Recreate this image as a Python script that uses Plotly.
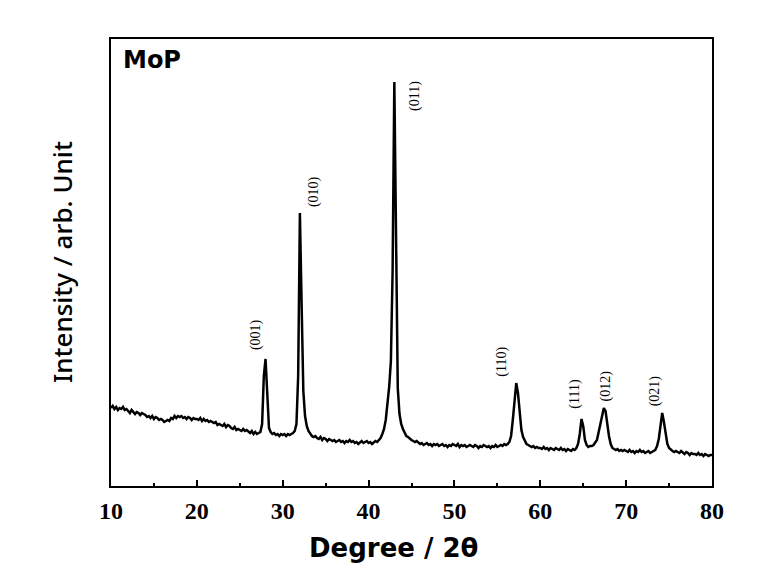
import plotly.graph_objects as go

# ---- data (2-theta in degrees, intensity arb.) ----
two_theta = [
    10.0, 10.2, 10.4, 10.6, 10.8, 11.0, 11.2, 11.4, 11.6, 11.8,
    12.0, 12.2, 12.4, 12.6, 12.8, 13.0, 13.2, 13.4, 13.6, 13.8,
    14.0, 14.2, 14.4, 14.6, 14.8, 15.0, 15.2, 15.4, 15.6, 15.8,
    16.0, 16.2, 16.4, 16.6, 16.8, 17.0, 17.2, 17.4, 17.6, 17.8,
    18.0, 18.2, 18.4, 18.6, 18.8, 19.0, 19.2, 19.4, 19.6, 19.8,
    20.0, 20.2, 20.4, 20.6, 20.8, 21.0, 21.2, 21.4, 21.6, 21.8,
    22.0, 22.2, 22.4, 22.6, 22.8, 23.0, 23.2, 23.4, 23.6, 23.8,
    24.0, 24.2, 24.4, 24.6, 24.8, 25.0, 25.2, 25.4, 25.6, 25.8,
    26.0, 26.2, 26.4, 26.6, 26.8, 27.0, 27.2, 27.4, 27.6, 27.8,
    28.0, 28.2, 28.4, 28.6, 28.8, 29.0, 29.2, 29.4, 29.6, 29.8,
    30.0, 30.2, 30.4, 30.6, 30.8, 31.0, 31.2, 31.4, 31.6, 31.8,
    32.0, 32.2, 32.4, 32.6, 32.8, 33.0, 33.2, 33.4, 33.6, 33.8,
    34.0, 34.2, 34.4, 34.6, 34.8, 35.0, 35.2, 35.4, 35.6, 35.8,
    36.0, 36.2, 36.4, 36.6, 36.8, 37.0, 37.2, 37.4, 37.6, 37.8,
    38.0, 38.2, 38.4, 38.6, 38.8, 39.0, 39.2, 39.4, 39.6, 39.8,
    40.0, 40.2, 40.4, 40.6, 40.8, 41.0, 41.2, 41.4, 41.6, 41.8,
    42.0, 42.2, 42.4, 42.6, 42.8, 43.0, 43.2, 43.4, 43.6, 43.8,
    44.0, 44.2, 44.4, 44.6, 44.8, 45.0, 45.2, 45.4, 45.6, 45.8,
    46.0, 46.2, 46.4, 46.6, 46.8, 47.0, 47.2, 47.4, 47.6, 47.8,
    48.0, 48.2, 48.4, 48.6, 48.8, 49.0, 49.2, 49.4, 49.6, 49.8,
    50.0, 50.2, 50.4, 50.6, 50.8, 51.0, 51.2, 51.4, 51.6, 51.8,
    52.0, 52.2, 52.4, 52.6, 52.8, 53.0, 53.2, 53.4, 53.6, 53.8,
    54.0, 54.2, 54.4, 54.6, 54.8, 55.0, 55.2, 55.4, 55.6, 55.8,
    56.0, 56.2, 56.4, 56.6, 56.8, 57.0, 57.2, 57.4, 57.6, 57.8,
    58.0, 58.2, 58.4, 58.6, 58.8, 59.0, 59.2, 59.4, 59.6, 59.8,
    60.0, 60.2, 60.4, 60.6, 60.8, 61.0, 61.2, 61.4, 61.6, 61.8,
    62.0, 62.2, 62.4, 62.6, 62.8, 63.0, 63.2, 63.4, 63.6, 63.8,
    64.0, 64.2, 64.4, 64.6, 64.8, 65.0, 65.2, 65.4, 65.6, 65.8,
    66.0, 66.2, 66.4, 66.6, 66.8, 67.0, 67.2, 67.4, 67.6, 67.8,
    68.0, 68.2, 68.4, 68.6, 68.8, 69.0, 69.2, 69.4, 69.6, 69.8,
    70.0, 70.2, 70.4, 70.6, 70.8, 71.0, 71.2, 71.4, 71.6, 71.8,
    72.0, 72.2, 72.4, 72.6, 72.8, 73.0, 73.2, 73.4, 73.6, 73.8,
    74.0, 74.2, 74.4, 74.6, 74.8, 75.0, 75.2, 75.4, 75.6, 75.8,
    76.0, 76.2, 76.4, 76.6, 76.8, 77.0, 77.2, 77.4, 77.6, 77.8,
    78.0, 78.2, 78.4, 78.6, 78.8, 79.0, 79.2, 79.4, 79.6, 79.8,
    80.0,
]

intensity = [
    78, 80, 77, 79, 76, 78, 77, 79, 76, 77,
    75, 73, 76, 74, 72, 74, 73, 71, 73, 72,
    71, 69, 70, 68, 70, 67, 69, 68, 66, 67,
    66, 64, 65, 66, 65, 68, 67, 70, 68, 70,
    69, 70, 68, 69, 67, 69, 68, 66, 68, 67,
    67, 66, 68, 65, 67, 65, 66, 64, 65, 64,
    63, 64, 61, 62, 61, 60, 62, 59, 61, 60,
    58, 57, 59, 56, 57, 56, 55, 57, 55, 56,
    54, 53, 55, 52, 54, 52, 53, 54, 62, 110,
    127, 85, 58, 54, 52, 53, 51, 52, 50, 52,
    51, 52, 50, 52, 51, 52, 53, 55, 62, 110,
    273, 183, 95, 70, 60, 55, 52, 50, 49, 50,
    48, 47, 49, 46, 48, 47, 45, 47, 46, 45,
    46, 44, 45, 46, 44, 45, 43, 45, 44, 46,
    44, 45, 43, 44, 42, 44, 45, 43, 44, 45,
    43, 44, 42, 44, 45, 44, 46, 48, 52, 57,
    66, 80, 99, 125, 215, 404, 209, 98, 72, 62,
    57, 53, 50, 49, 47, 46, 45, 44, 45, 43,
    42, 43, 41, 42, 43, 41, 42, 40, 42, 41,
    42, 40, 41, 42, 40, 41, 39, 41, 40, 42,
    41, 40, 42, 39, 41, 40, 41, 39, 40, 41,
    40, 39, 41, 40, 38, 40, 39, 41, 40, 39,
    40, 38, 40, 39, 41, 39, 40, 41, 40, 42,
    41, 42, 44, 50, 66, 89, 103, 93, 72, 56,
    49, 45, 42, 41, 40, 39, 40, 38, 39, 38,
    38, 37, 39, 37, 38, 36, 38, 37, 36, 38,
    37, 36, 38, 36, 37, 35, 37, 36, 35, 37,
    36, 38, 42, 52, 67, 60, 46, 41, 39, 40,
    40, 41, 43, 46, 54, 62, 70, 78, 75, 62,
    50, 42, 38, 37, 36, 37, 35, 36, 35, 36,
    35, 34, 36, 34, 35, 33, 35, 34, 36, 34,
    35, 33, 34, 35, 33, 34, 35, 36, 40, 47,
    60, 73, 64, 50, 42, 38, 36, 35, 34, 35,
    34, 33, 35, 33, 32, 34, 33, 31, 33, 32,
    32, 31, 33, 31, 32, 30, 32, 31, 30, 31,
    31,
]

# Miller-index labels and where they sit (2-theta, intensity)
hkl_labels = ["(001)", "(010)", "(011)", "(110)", "(111)", "(012)", "(021)"]
hkl_x = [26.9, 33.65, 45.4, 55.5, 64.0, 67.7, 73.4]
hkl_y = [151, 294, 390, 124, 92, 100, 95]

x_ticks = [10, 20, 30, 40, 50, 60, 70, 80]
sample_name = "MoP"
x_title = "Degree / 2θ"
y_title = "Intensity / arb. Unit"

fig = go.Figure()
fig.add_trace(go.Scatter(
    x=two_theta, y=intensity, mode="lines",
    line=dict(color="black", width=2.5),
    showlegend=False, hoverinfo="skip",
))

annotations = []
for lab, lx, ly in zip(hkl_labels, hkl_x, hkl_y):
    annotations.append(dict(
        x=lx, y=ly, xref="x", yref="y", text=lab, showarrow=False,
        textangle=-90, xanchor="center", yanchor="middle",
        font=dict(family="Liberation Serif", size=14, color="black"),
    ))

annotations.append(dict(
    x=0.0166, y=0.952, xref="paper", yref="paper", text=sample_name,
    showarrow=False, xanchor="left", yanchor="middle",
    font=dict(family="DejaVu Sans", size=24, color="black", weight="bold"),
))
annotations.append(dict(
    x=(393 - 111) / 601, y=(486 - 548) / 447, xref="paper", yref="paper",
    text=x_title, showarrow=False, xanchor="center", yanchor="middle",
    font=dict(family="DejaVu Sans", size=26, color="black", weight="bold"),
))
annotations.append(dict(
    x=(62 - 111) / 601, y=(486 - 262) / 447, xref="paper", yref="paper",
    text=y_title, showarrow=False, xanchor="center", yanchor="middle",
    textangle=-90,
    font=dict(family="Noto Sans", size=26, color="black", weight=500),
))

fig.update_layout(
    width=764, height=579,
    margin=dict(l=111, r=52, t=39, b=93),
    paper_bgcolor="white", plot_bgcolor="white",
    annotations=annotations,
    xaxis=dict(
        range=[10, 80], tickvals=x_ticks, ticks="inside", ticklen=6,
        tickwidth=1.5, tickcolor="black",
        minor=dict(dtick=5, ticks="inside", ticklen=3, tickwidth=1.5, tickcolor="black"),
        showline=True, linecolor="black", linewidth=1.8, mirror=True,
        showgrid=False, zeroline=False,
        tickfont=dict(family="Liberation Serif", size=24, color="black", weight="bold"),
        ticklabelstandoff=2,
    ),
    yaxis=dict(
        range=[0, 447], showticklabels=False, ticks="",
        showline=True, linecolor="black", linewidth=1.8, mirror=True,
        showgrid=False, zeroline=False,
    ),
)

fig.write_html("out.html")
